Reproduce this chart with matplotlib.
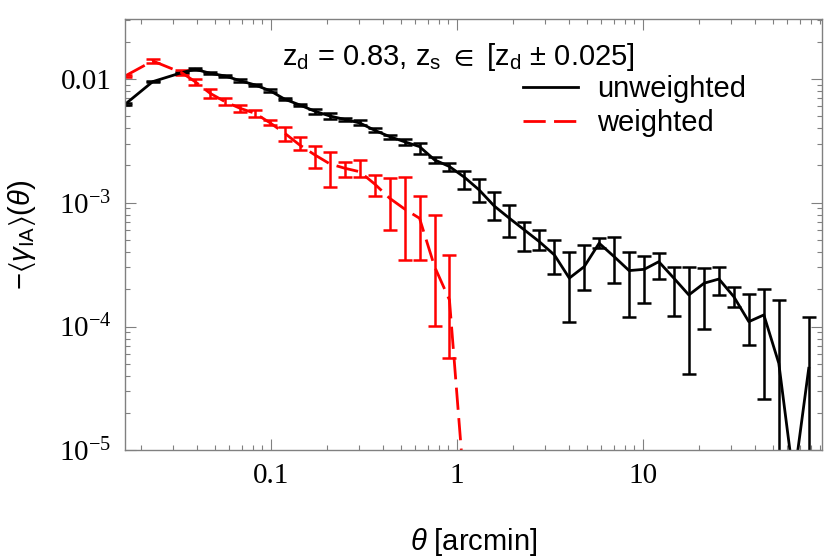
import numpy as np
import matplotlib
matplotlib.use('Agg')
import matplotlib.pyplot as plt
from matplotlib.lines import Line2D
from matplotlib.ticker import FixedLocator, FixedFormatter, NullFormatter

plt.rcParams['mathtext.fontset'] = 'custom'
plt.rcParams['mathtext.rm'] = 'Liberation Sans'
plt.rcParams['mathtext.it'] = 'Liberation Sans:italic'
plt.rcParams['mathtext.sf'] = 'Liberation Sans'
plt.rcParams['mathtext.fallback'] = 'stixsans'

# theta bins [arcmin]
theta = [0.0165, 0.0232, 0.0332, 0.0392, 0.0472, 0.0568, 0.0683, 0.0822, 0.0990,
         0.119, 0.143, 0.173, 0.208, 0.250, 0.301, 0.362, 0.436, 0.524, 0.631,
         0.760, 0.914, 1.10, 1.32, 1.59, 1.92, 2.31, 2.78, 3.35, 4.03, 4.85,
         5.83, 7.02, 8.45, 10.2, 12.2, 14.7, 17.7, 21.4, 25.7, 30.9, 37.2,
         44.8, 53.9, 64.9, 78.1]

# unweighted
unw = [6.25e-3, 9.51e-3, 0.01124, 0.01198, 0.01112, 0.01057, 9.69e-3, 8.95e-3, 8.04e-3,
       6.86e-3, 6.17e-3, 5.48e-3, 5.02e-3, 4.71e-3, 4.41e-3, 3.85e-3, 3.42e-3, 3.11e-3, 2.84e-3,
       2.22e-3, 1.96e-3, 1.607e-3, 1.269e-3, 9.42e-4, 7.49e-4, 6.03e-4, 4.85e-4, 3.79e-4, 2.46e-4, 3.05e-4,
       4.71e-4, 3.67e-4, 2.83e-4, 2.90e-4, 3.34e-4, 2.46e-4, 1.80e-4, 2.24e-4, 2.42e-4, 1.74e-4, 1.095e-4,
       1.241e-4, 5.05e-5, 5.7e-6, 4.60e-5]
unw_lo = [6.16e-3, 9.37e-3, 0.01107, 0.01171, 0.01087, 0.01034, 9.48e-3, 8.75e-3, 7.86e-3,
          6.71e-3, 6.03e-3, 5.23e-3, 4.79e-3, 4.55e-3, 4.21e-3, 3.70e-3, 3.29e-3, 2.93e-3, 2.48e-3,
          2.08e-3, 1.82e-3, 1.285e-3, 1.021e-3, 7.26e-4, 5.26e-4, 4.08e-4, 4.16e-4, 2.66e-4, 1.095e-4, 1.975e-4,
          4.29e-4, 2.24e-4, 1.189e-4, 1.543e-4, 2.41e-4, 1.218e-4, 4.14e-5, 9.51e-5, 1.80e-4, 1.43e-4, 7.10e-5,
          2.59e-5, 1e-7, 5.7e-6, 1e-7]
unw_hi = [6.34e-3, 9.65e-3, 0.01141, 0.01225, 0.01137, 0.01081, 9.91e-3, 9.15e-3, 8.22e-3,
          7.02e-3, 6.31e-3, 5.74e-3, 5.26e-3, 4.87e-3, 4.62e-3, 4.00e-3, 3.55e-3, 3.26e-3, 3.02e-3,
          2.36e-3, 2.11e-3, 1.82e-3, 1.548e-3, 1.223e-3, 9.60e-4, 7.04e-4, 6.03e-4, 5.01e-4, 4.03e-4, 4.56e-4,
          5.17e-4, 5.26e-4, 4.03e-4, 3.72e-4, 3.95e-4, 3.01e-4, 3.01e-4, 2.96e-4, 3.01e-4, 2.08e-4, 1.83e-4,
          2.00e-4, 1.64e-4, 5.7e-6, 1.20e-4]

# weighted (first 22 bins)
wgt = [0.01057, 0.01397, 0.01124, 9.51e-3, 7.66e-3, 6.55e-3, 5.80e-3, 5.28e-3, 4.43e-3,
       3.64e-3, 2.93e-3, 2.43e-3, 2.06e-3, 1.90e-3, 1.78e-3, 1.418e-3, 1.087e-3, 8.91e-4, 7.49e-4,
       3.05e-4, 1.64e-4, 4.8e-6]
wgt_lo = [0.01041, 0.01339, 0.01077, 8.95e-3, 6.98e-3, 6.17e-3, 5.44e-3, 4.96e-3, 4.25e-3,
          3.17e-3, 2.65e-3, 1.91e-3, 1.334e-3, 1.625e-3, 1.625e-3, 1.134e-3, 6.03e-4, 3.45e-4, 3.45e-4,
          1.011e-4, 5.54e-5, 4.8e-6]
wgt_hi = [0.01073, 0.01459, 0.01182, 9.94e-3, 8.26e-3, 6.98e-3, 6.17e-3, 5.62e-3, 4.66e-3,
          4.12e-3, 3.37e-3, 2.88e-3, 2.59e-3, 2.12e-3, 2.22e-3, 1.677e-3, 1.577e-3, 1.625e-3, 1.134e-3,
          7.97e-4, 3.79e-4, 4.8e-6]

x_ticks = [0.1, 1, 10]
x_ticklabels = ['0.1', '1', '10']
y_ticks = [1e-5, 1e-4, 1e-3, 1e-2]
y_ticklabels = [r'$\mathregular{10^{-5}}$', r'$\mathregular{10^{-4}}$', r'$\mathregular{10^{-3}}$', '0.01']

fig = plt.figure(figsize=(8.3, 5.59), dpi=100)
ax = fig.add_axes([0.151, 0.1944, 0.8388, 0.7710])

unw = np.array(unw)
wgt = np.array(wgt)
tw = theta[:len(wgt)]
dash = (0, (8, 3))

ax.errorbar(theta, unw, yerr=[unw - np.array(unw_lo), np.array(unw_hi) - unw],
            color='black', lw=2, elinewidth=1.8, capsize=5, capthick=1.8)
ax.errorbar(tw, wgt, yerr=[wgt - np.array(wgt_lo), np.array(wgt_hi) - wgt],
            color='red', lw=2, ls=dash, elinewidth=1.8, capsize=5, capthick=1.8)

ax.set_xscale('log')
ax.set_yscale('log')
ax.set_xlim(0.01653, 91.5)
ax.set_ylim(1e-5, 0.0303)

minor_x = [m * 10.0**e for e in range(-2, 2) for m in range(2, 10)]
minor_y = [m * 10.0**e for e in range(-5, -1) for m in range(2, 10)]
ax.xaxis.set_major_locator(FixedLocator(x_ticks))
ax.xaxis.set_major_formatter(FixedFormatter(x_ticklabels))
ax.xaxis.set_minor_locator(FixedLocator(minor_x))
ax.xaxis.set_minor_formatter(NullFormatter())
ax.yaxis.set_major_locator(FixedLocator(y_ticks))
ax.yaxis.set_major_formatter(FixedFormatter(y_ticklabels))
ax.yaxis.set_minor_locator(FixedLocator(minor_y))
ax.yaxis.set_minor_formatter(NullFormatter())

gray = '#808080'
for s in ax.spines.values():
    s.set_color(gray)
    s.set_linewidth(1.0)
ax.tick_params(which='both', direction='in', top=True, right=True, color=gray, width=0.8)
ax.tick_params(which='major', length=8)
ax.tick_params(axis='x', which='major', pad=9)
ax.tick_params(axis='y', which='major', pad=10)
ax.tick_params(which='minor', length=3.6)
for lab in ax.get_xticklabels() + ax.get_yticklabels():
    lab.set_fontfamily('Liberation Serif')
    lab.set_fontsize(21)

ax.set_xlabel(r'$\theta$ [arcmin]', fontsize=21, family='Liberation Sans')
ax.xaxis.set_label_coords(0.5, -0.175)
ax.set_ylabel(r'$-\langle\gamma_{\rm IA}\rangle(\theta)$', fontsize=21, family='Liberation Sans')
ax.yaxis.set_label_coords(-0.125, 0.5)

ax.text(0.479, 0.894, r'z$_{\rm d}$ = 0.83, z$_{\rm s}\ \in\ $[z$_{\rm d}$ ± 0.025]',
        transform=ax.transAxes, ha='center', va='baseline', fontsize=21,
        family='Liberation Sans')

handles = [Line2D([], [], color='black', lw=2),
           Line2D([], [], color='red', lw=2, ls=dash)]
ax.legend(handles, ['unweighted', 'weighted'], loc='upper left',
          bbox_to_anchor=(0.571, 0.871), frameon=False,
          prop={'family': 'Liberation Sans', 'size': 21},
          handlelength=1.9, handletextpad=0.65, borderpad=0, borderaxespad=0,
          labelspacing=0.2)

fig.savefig('out.png', dpi=100)
